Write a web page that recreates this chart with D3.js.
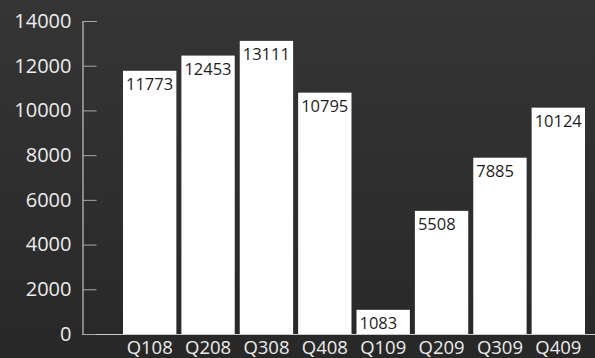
<!DOCTYPE html>
<html>
<head>
<meta charset="utf-8">
<script src="https://cdn.jsdelivr.net/npm/d3@7"></script>
<style>
  html, body { margin: 0; padding: 0; background: #2f2f2f; }
  svg { display: block; font-family: "Open Sans", sans-serif; }
</style>
</head>
<body>
<div id="chart"></div>
<script>
const quarters = ["Q108", "Q208", "Q308", "Q408", "Q109", "Q209", "Q309", "Q409"]
const values = [11773, 12453, 13111, 10795, 1083, 5508, 7885, 10124]
const yTicks = [0, 2000, 4000, 6000, 8000, 10000, 12000, 14000]

const W = 595, H = 358
const axisX = 82, baseY = 334, topY = 21

const svg = d3.select("#chart")
    .append("svg")
        .attr("width", W)
        .attr("height", H)

// dark background, slightly lighter at the top
const grad = svg.append("defs").append("linearGradient")
    .attr("id", "bg")
    .attr("x1", 0).attr("y1", 0).attr("x2", 0).attr("y2", 1)
grad.append("stop").attr("offset", "0%").attr("stop-color", "#353535")
grad.append("stop").attr("offset", "100%").attr("stop-color", "#292828")

svg.append("rect")
    .attr("width", W)
    .attr("height", H)
    .attr("fill", "url(#bg)")

const yScale = d3.scaleLinear()
    .domain([0, 14000])
    .range([baseY, topY])

const xScale = d3.scaleBand()
    .domain(quarters)
    .range([120.5, 587.5])
    .paddingInner(0.086)
    .paddingOuter(0.043)

// horizontal baseline runs under the bars
svg.append("line")
    .attr("x1", axisX).attr("x2", W)
    .attr("y1", baseY + 0.5).attr("y2", baseY + 0.5)
    .attr("stroke", "#c8c8c8")

const yAxis = svg.append("g")
    .attr("transform", `translate(${axisX + 0.5}, 0)`)
    .call(d3.axisLeft(yScale)
        .tickValues(yTicks)
        .tickFormat(d3.format("d"))
        .tickSize(-14)
        .tickSizeOuter(-14)
        .tickPadding(11))

yAxis.select(".domain").attr("stroke", "#e0e0e0")
yAxis.selectAll(".tick line").attr("stroke", "#a8a8a8")
yAxis.selectAll(".tick text")
    .attr("fill", "#ececec")
    .attr("font-size", "20px")
    .attr("font-family", "'Open Sans', sans-serif")

svg.selectAll("rect.bar")
    .data(values)
    .join("rect")
        .classed("bar", true)
        .attr("x", (d, i) => xScale(quarters[i]))
        .attr("y", d => yScale(d))
        .attr("width", xScale.bandwidth())
        .attr("height", d => baseY - yScale(d))
        .attr("fill", "#ffffff")

svg.selectAll("text.val")
    .data(values)
    .join("text")
        .classed("val", true)
        .attr("x", (d, i) => xScale(quarters[i]) + 3)
        .attr("y", d => yScale(d) + 19)
        .attr("font-size", "16.5px")
        .attr("fill", "#1e1e1e")
        .text(d => d)

const xAxis = svg.append("g")
    .attr("transform", `translate(0, ${baseY})`)
    .call(d3.axisBottom(xScale).tickSize(0).tickPadding(7))

xAxis.select(".domain").remove()
xAxis.selectAll(".tick text")
    .attr("fill", "#ececec")
    .attr("font-size", "18.5px")
    .attr("font-family", "'Open Sans', sans-serif")
</script>
</body>
</html>
